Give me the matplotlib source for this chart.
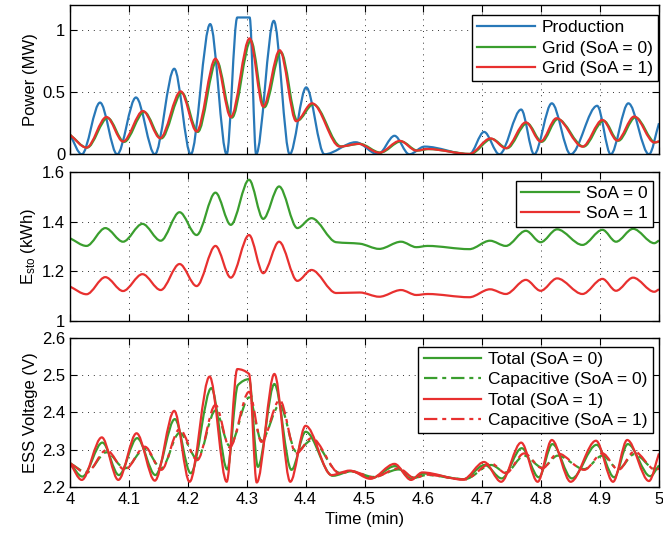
import matplotlib
matplotlib.use('Agg')
import matplotlib.pyplot as plt
from matplotlib.path import Path
from matplotlib.patches import PathPatch
from matplotlib.ticker import FuncFormatter, FixedLocator
import numpy as np

plt.rcParams['font.family'] = ['Liberation Sans', 'DejaVu Sans']
plt.rcParams['font.size'] = 12
plt.rcParams['mathtext.default'] = 'regular'

# ---------------- data (knots) ----------------
# Panel 1: power (MW)
prod_t = [4.000, 4.020, 4.051, 4.080, 4.112, 4.144, 4.177, 4.205, 4.238, 4.266, 4.284, 4.305,
          4.316, 4.346, 4.373, 4.401, 4.432, 4.485, 4.523, 4.551, 4.576, 4.602, 4.678, 4.703,
          4.729, 4.766, 4.788, 4.818, 4.850, 4.895, 4.918, 4.948, 4.983, 5.000]
prod_v = [0.157, 0.000, 0.416, 0.000, 0.457, 0.000, 0.688, 0.000, 1.047, 0.000, 1.100, 1.100,
          0.000, 1.073, 0.000, 0.538, 0.000, 0.097, 0.000, 0.149, 0.000, 0.062, 0.000, 0.180,
          0.000, 0.360, 0.000, 0.410, 0.000, 0.390, 0.000, 0.410, 0.000, 0.250]

grid1_t = [4.000, 4.028, 4.062, 4.090, 4.124, 4.153, 4.188, 4.215, 4.247, 4.273, 4.305, 4.328,
           4.356, 4.384, 4.411, 4.458, 4.490, 4.525, 4.560, 4.588, 4.607, 4.678, 4.714, 4.740,
           4.774, 4.799, 4.826, 4.870, 4.904, 4.929, 4.958, 4.992, 5.000]
grid1_v = [0.157, 0.054, 0.300, 0.103, 0.348, 0.130, 0.506, 0.184, 0.769, 0.299, 0.932, 0.383,
           0.837, 0.266, 0.410, 0.062, 0.084, 0.013, 0.108, 0.030, 0.043, 0.003, 0.128, 0.049,
           0.257, 0.103, 0.290, 0.062, 0.276, 0.111, 0.304, 0.095, 0.105]
grid0_t = [4.000, 4.029, 4.064, 4.092, 4.126, 4.155, 4.190, 4.217, 4.249, 4.275, 4.307, 4.330,
           4.358, 4.386, 4.413, 4.460, 4.492, 4.527, 4.562, 4.590, 4.609, 4.680, 4.716, 4.742,
           4.776, 4.801, 4.828, 4.872, 4.906, 4.931, 4.960, 4.994, 5.000]
grid0_v = [0.157, 0.054, 0.292, 0.100, 0.340, 0.128, 0.495, 0.180, 0.752, 0.295, 0.915, 0.378,
           0.822, 0.270, 0.402, 0.064, 0.084, 0.014, 0.104, 0.030, 0.042, 0.003, 0.124, 0.049,
           0.250, 0.101, 0.283, 0.062, 0.270, 0.109, 0.297, 0.095, 0.104]

# Panel 2: stored energy (kWh)
esto_t = [4.000, 4.028, 4.060, 4.090, 4.123, 4.154, 4.186, 4.215, 4.247, 4.273, 4.304, 4.328,
          4.355, 4.386, 4.410, 4.452, 4.492, 4.525, 4.562, 4.588, 4.607, 4.678, 4.713, 4.740,
          4.774, 4.799, 4.827, 4.870, 4.904, 4.927, 4.956, 4.992, 5.000]
esto0_v = [1.334, 1.303, 1.375, 1.320, 1.392, 1.324, 1.439, 1.347, 1.518, 1.388, 1.570, 1.412,
           1.543, 1.375, 1.415, 1.318, 1.312, 1.291, 1.320, 1.298, 1.303, 1.290, 1.324, 1.303,
           1.364, 1.318, 1.370, 1.307, 1.368, 1.320, 1.372, 1.314, 1.325]
esto1_v = [1.139, 1.108, 1.177, 1.121, 1.189, 1.125, 1.230, 1.141, 1.303, 1.175, 1.347, 1.193,
           1.320, 1.162, 1.206, 1.113, 1.115, 1.098, 1.125, 1.105, 1.109, 1.096, 1.128, 1.109,
           1.166, 1.122, 1.172, 1.109, 1.170, 1.122, 1.175, 1.118, 1.128]

# Panel 3: ESS voltage (V)
vtot1_t = [4.000, 4.020, 4.054, 4.082, 4.113, 4.144, 4.177, 4.203, 4.237, 4.266, 4.284, 4.304,
           4.317, 4.347, 4.374, 4.400, 4.444, 4.475, 4.510, 4.551, 4.579, 4.598, 4.667, 4.703,
           4.732, 4.766, 4.794, 4.818, 4.850, 4.893, 4.922, 4.946, 4.983, 5.000]
vtot1_v = [2.264, 2.219, 2.333, 2.219, 2.344, 2.217, 2.404, 2.214, 2.496, 2.214, 2.516, 2.503,
           2.212, 2.503, 2.214, 2.364, 2.232, 2.244, 2.222, 2.262, 2.219, 2.239, 2.220, 2.267,
           2.214, 2.319, 2.214, 2.326, 2.214, 2.324, 2.214, 2.326, 2.216, 2.290]
vtot0_t = [4.000, 4.021, 4.055, 4.083, 4.114, 4.145, 4.178, 4.205, 4.240, 4.267, 4.285, 4.304,
           4.319, 4.347, 4.376, 4.400, 4.446, 4.477, 4.512, 4.552, 4.580, 4.600, 4.668, 4.704,
           4.733, 4.767, 4.796, 4.819, 4.852, 4.894, 4.924, 4.947, 4.985, 5.000]
vtot0_v = [2.264, 2.228, 2.319, 2.232, 2.331, 2.232, 2.382, 2.237, 2.465, 2.247, 2.473, 2.489,
           2.254, 2.476, 2.246, 2.348, 2.230, 2.242, 2.224, 2.256, 2.222, 2.236, 2.221, 2.259,
           2.223, 2.304, 2.226, 2.315, 2.223, 2.313, 2.226, 2.315, 2.229, 2.258]
vcap_t = [4.000, 4.028, 4.062, 4.093, 4.127, 4.155, 4.186, 4.216, 4.247, 4.271, 4.304, 4.325,
          4.356, 4.384, 4.410, 4.458, 4.478, 4.515, 4.558, 4.585, 4.605, 4.670, 4.715, 4.740,
          4.771, 4.802, 4.828, 4.873, 4.904, 4.931, 4.958, 4.994, 5.000]
vcap1_v = [2.264, 2.238, 2.299, 2.246, 2.308, 2.246, 2.355, 2.272, 2.420, 2.306, 2.455, 2.321,
           2.433, 2.290, 2.331, 2.237, 2.242, 2.226, 2.250, 2.224, 2.233, 2.220, 2.263, 2.237,
           2.290, 2.250, 2.290, 2.246, 2.290, 2.246, 2.295, 2.246, 2.250]
vcap0_v = [2.264, 2.240, 2.293, 2.250, 2.302, 2.250, 2.345, 2.276, 2.405, 2.310, 2.440, 2.325,
           2.420, 2.295, 2.325, 2.238, 2.242, 2.227, 2.247, 2.225, 2.232, 2.221, 2.259, 2.239,
           2.284, 2.252, 2.284, 2.248, 2.284, 2.248, 2.288, 2.248, 2.250]

xticks = [4.0, 4.1, 4.2, 4.3, 4.4, 4.5, 4.6, 4.7, 4.8, 4.9, 5.0]
yticks1 = [0, 0.5, 1]
yticks2 = [1, 1.2, 1.4, 1.6]
yticks3 = [2.2, 2.3, 2.4, 2.5, 2.6]

BLUE = '#2878b8'
GREEN = '#3a9e2e'
RED = '#e8302f'
LW = 1.6
DASHDOT = (0, (6.0, 2.2, 1.8, 2.2))


def smooth_path(t, v):
    """Cubic Bezier path through the knots (monotone tangents)."""
    t = np.asarray(t, float)
    v = np.asarray(v, float)
    h = np.diff(t)
    d = np.diff(v) / h
    n = len(t)
    m = np.zeros(n)
    for i in range(1, n - 1):
        if d[i - 1] * d[i] > 0:
            w1 = 2 * h[i] + h[i - 1]
            w2 = h[i] + 2 * h[i - 1]
            m[i] = (w1 + w2) / (w1 / d[i - 1] + w2 / d[i])
    m[0] = d[0]
    m[-1] = d[-1]
    verts = [(t[0], v[0])]
    codes = [Path.MOVETO]
    for i in range(n - 1):
        verts += [(t[i] + h[i] / 3, v[i] + m[i] * h[i] / 3),
                  (t[i + 1] - h[i] / 3, v[i + 1] - m[i + 1] * h[i] / 3),
                  (t[i + 1], v[i + 1])]
        codes += [Path.CURVE4] * 3
    return Path(verts, codes)


def draw(ax, t, v, color, ls='-', label=None):
    ax.add_patch(PathPatch(smooth_path(t, v), fill=False, edgecolor=color, lw=LW,
                           linestyle=ls, joinstyle='round', capstyle='butt', zorder=2))
    ax.plot([], [], color=color, lw=LW, linestyle=ls, label=label)


fig = plt.figure(figsize=(6.63, 5.36), dpi=100)
L, W = 70 / 663, 589 / 663
ax1 = fig.add_axes([L, 0.7121, W, 0.2785])
ax2 = fig.add_axes([L, 0.4011, W, 0.2774])
ax3 = fig.add_axes([L, 0.0914, W, 0.2785])

fmt = FuncFormatter(lambda x, p: '%g' % x)
for ax, yt in ((ax1, yticks1), (ax2, yticks2), (ax3, yticks3)):
    ax.set_xlim(4, 5)
    ax.xaxis.set_major_locator(FixedLocator(xticks))
    ax.yaxis.set_major_locator(FixedLocator(yt))
    ax.xaxis.set_major_formatter(fmt)
    ax.yaxis.set_major_formatter(fmt)
    ax.tick_params(direction='in', top=True, right=True, length=5, width=0.8, labelsize=12)
    ax.grid(True, linestyle=(0, (1, 5)), color='#333333', lw=0.7)
    for s in ax.spines.values():
        s.set_linewidth(1.0)

ax1.set_ylim(0, 1.2)
ax2.set_ylim(1, 1.6)
ax3.set_ylim(2.2, 2.6)
ax1.tick_params(labelbottom=False)
ax2.tick_params(labelbottom=False)

draw(ax1, prod_t, prod_v, BLUE, label='Production')
draw(ax1, grid0_t, grid0_v, GREEN, label='Grid (SoA = 0)')
draw(ax1, grid1_t, grid1_v, RED, label='Grid (SoA = 1)')

draw(ax2, esto_t, esto0_v, GREEN, label='SoA = 0')
draw(ax2, esto_t, esto1_v, RED, label='SoA = 1')

draw(ax3, vtot0_t, vtot0_v, GREEN, label='Total (SoA = 0)')
draw(ax3, vcap_t, vcap0_v, GREEN, ls=DASHDOT, label='Capacitive (SoA = 0)')
draw(ax3, vtot1_t, vtot1_v, RED, label='Total (SoA = 1)')
draw(ax3, vcap_t, vcap1_v, RED, ls=DASHDOT, label='Capacitive (SoA = 1)')

ax1.set_ylabel('Power (MW)')
ax2.set_ylabel('E$_{sto}$ (kWh)')
ax3.set_ylabel('ESS Voltage (V)')
ax3.set_xlabel('Time (min)')
for ax in (ax1, ax2, ax3):
    ax.yaxis.set_label_coords(-0.055, 0.5)

leg_kw = dict(loc='upper right', borderaxespad=0, fancybox=False, framealpha=1,
              edgecolor='black', handlelength=3.3, handletextpad=0.4,
              labelspacing=0.3, borderpad=0.3, fontsize=12.5)
for ax, anchor in ((ax1, (0.998, 0.933)), (ax2, (0.989, 0.944)), (ax3, (0.989, 0.940))):
    lg = ax.legend(bbox_to_anchor=anchor, **leg_kw)
    lg.get_frame().set_linewidth(1.0)

fig.savefig('out.png', dpi=100)
